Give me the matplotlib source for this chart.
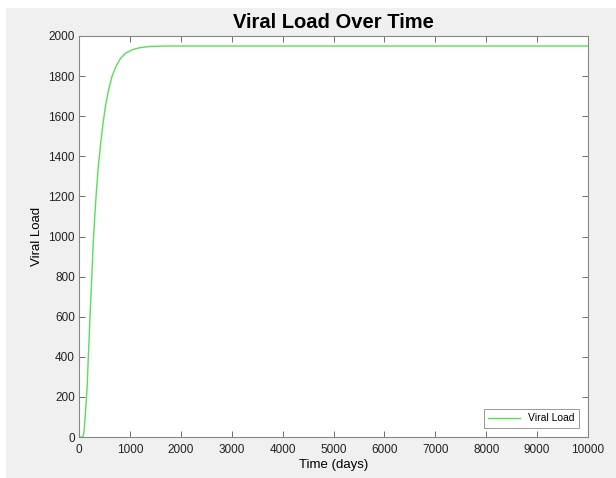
import matplotlib.pyplot as plt
from matplotlib.patches import Rectangle

# values
time_days = [0, 60, 85, 100, 120, 140, 160, 180, 200, 225, 250, 280, 310, 340,
             380, 420, 470, 520, 580, 650, 730, 820, 920, 1050, 1200, 1400,
             1700, 2000, 3000, 10000]
viral_load = [0, 0, 5, 30, 100, 170, 250, 380, 500, 650, 790, 970, 1100, 1220,
              1350, 1450, 1560, 1650, 1730, 1800, 1850, 1890, 1915, 1932, 1942,
              1948, 1950, 1950, 1950, 1950]

xticks = list(range(0, 10001, 1000))
yticks = list(range(0, 2001, 200))

plt.rcParams['font.family'] = ['Liberation Sans', 'DejaVu Sans']

fig = plt.figure(figsize=(6.16, 4.78), dpi=100, facecolor='white')
fig.patches.append(Rectangle((6 / 616, 0), 1, 1 - 8 / 478, transform=fig.transFigure,
                             facecolor='#f0f0f0', edgecolor='none', zorder=-1))

ax = fig.add_axes([79 / 616, 41 / 478, 509 / 616, 401 / 478])
ax.plot(time_days, viral_load, color='#55e055', lw=1.0, label='Viral Load')

ax.set_xlim(0, 10000)
ax.set_ylim(0, 2000)
ax.set_xticks(xticks)
ax.set_yticks(yticks)
ax.tick_params(direction='in', top=True, right=True, length=4, width=0.6,
               color='#555555', labelsize=8.5, labelcolor='#222222', pad=3)
ax.tick_params(axis='x', pad=5)
for s in ax.spines.values():
    s.set_color('#888888')
    s.set_linewidth(0.8)

ax.set_title('Viral Load Over Time', fontsize=14.5, fontweight='bold', pad=6)
ax.set_xlabel('Time (days)', fontsize=9.5, labelpad=2)
ax.set_ylabel('Viral Load', fontsize=9.5, labelpad=4)

leg = ax.legend(loc='lower right', fontsize=7.5, fancybox=False, framealpha=1,
                edgecolor='#888888', borderaxespad=0.9, handlelength=3.0)
leg.get_frame().set_linewidth(0.6)

fig.savefig('out.png', dpi=100, facecolor=fig.get_facecolor())
